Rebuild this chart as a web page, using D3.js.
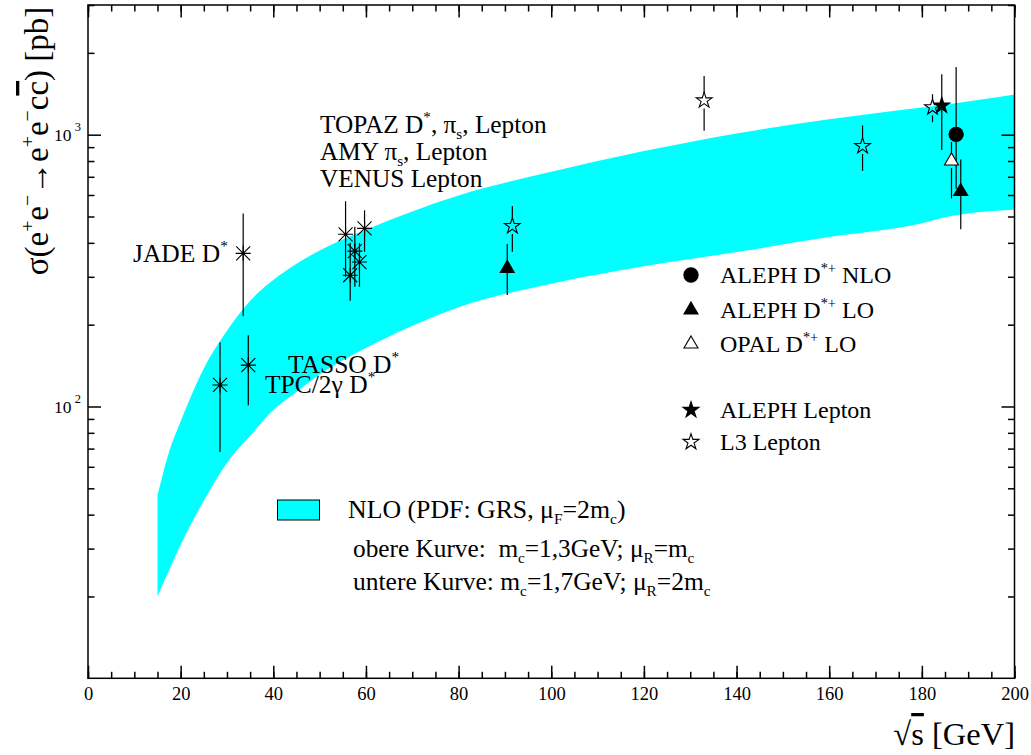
<!DOCTYPE html>
<html>
<head>
<meta charset="utf-8">
<script src="https://cdn.jsdelivr.net/npm/d3@7"></script>
<style>
  body { margin: 0; background: #fff; }
  svg { display: block; font-family: 'Liberation Serif', 'Times New Roman', serif; }
  text { white-space: pre; }
</style>
</head>
<body>
<div id="chart"></div>
<script>
// NLO band (upper / lower curve)
const bandX     = [15, 17.5, 20, 25, 30, 35, 40, 45, 50, 60, 70, 80, 100, 120, 140, 160, 180, 185, 200]
const bandUpper = [47, 68, 88, 138, 190, 245, 292, 335, 375, 447, 522, 597, 730, 870, 1010, 1140, 1260, 1290, 1406]
const bandLower = [20, 25, 31, 45, 62, 78, 97, 113, 131, 164, 198, 232, 283, 328, 370, 420, 472, 497, 530]

// PETRA / TRISTAN points (asterisk markers)
const astX  = [28.5, 34.6, 33.5, 55.6, 56.6, 57.6, 58.6, 59.7]
const astY  = [120, 142, 366, 430, 304, 373, 340, 452]
const astHi = [172, 183, 513, 569, 400, 458, 399, 527]
const astLo = [68, 101, 215, 300, 245, 276, 276, 371]

// ALEPH D*+ NLO (filled circle)
const alephNloX = [187.4], alephNloY = [1003], alephNloHi = [1776], alephNloLo = [632]
// ALEPH D*+ LO (filled triangle)
const alephLoX = [90.5, 188.4], alephLoY = [322, 618], alephLoHi = [396, 811], alephLoLo = [257, 449]
// OPAL D*+ LO (open triangle)
const opalX = [186.4], opalY = [800], opalHi = [940], opalLo = [583]
// ALEPH Lepton (filled star)
const alephLepX = [184.3], alephLepY = [1280], alephLepHi = [1667], alephLepLo = [879]
// L3 Lepton (open star)
const l3X  = [91.6, 133, 167.2, 182.3]
const l3Y  = [461, 1337, 908, 1261]
const l3Hi = [546, 1643, 1082, 1409]
const l3Lo = [371, 1033, 736, 1111]

const xMajor = d3.range(0, 201, 20)
const xMinor = d3.range(0, 201, 5)
const yMajor = [100, 1000]
const yMinor = [20, 30, 40, 50, 60, 70, 80, 90, 200, 300, 400, 500, 600, 700, 800, 900, 2000, 3000]

function draw() {
  let dimensions = {
    width: 1031,
    height: 755,
    margins: { top: 5, bottom: 76.7, left: 88, right: 16.5 }
  }
  dimensions.ctrWidth = dimensions.width - dimensions.margins.left - dimensions.margins.right
  dimensions.ctrHeight = dimensions.height - dimensions.margins.top - dimensions.margins.bottom

  const svg = d3.select('#chart')
    .append('svg')
    .attr('width', dimensions.width)
    .attr('height', dimensions.height)

  const ctr = svg.append('g')
    .attr('transform', `translate(${dimensions.margins.left}, ${dimensions.margins.top})`)

  const xScale = d3.scaleLinear().domain([0, 200]).range([0, dimensions.ctrWidth])
  const yScale = d3.scaleLog().domain([10, 3000]).range([dimensions.ctrHeight, 0])

  // band
  const bandData = bandX.map((x, i) => ({ x, hi: bandUpper[i], lo: bandLower[i] }))
  const area = d3.area()
    .x(d => xScale(d.x))
    .y0(d => yScale(d.lo))
    .y1(d => yScale(d.hi))
    .curve(d3.curveMonotoneX)
  ctr.append('path').datum(bandData).attr('d', area).attr('fill', '#00ffff')

  // axes with inward ticks
  const axisStyle = g => {
    g.select('.domain').remove()
    g.selectAll('line').attr('stroke', '#000').attr('stroke-width', 1.5)
  }
  ctr.append('g').attr('transform', `translate(0, ${dimensions.ctrHeight})`)
    .call(d3.axisBottom(xScale).tickValues(xMinor).tickSize(-6.5).tickFormat(''))
    .call(axisStyle)
  ctr.append('g').attr('transform', `translate(0, ${dimensions.ctrHeight})`)
    .call(d3.axisBottom(xScale).tickValues(xMajor).tickSize(-12.5).tickPadding(9).tickFormat(d3.format('d')))
    .call(axisStyle)
    .call(g => g.selectAll('text').attr('font-size', 18.5).attr('font-family', 'Liberation Serif').attr('fill', '#000'))
  ctr.append('g')
    .call(d3.axisTop(xScale).tickValues(xMinor).tickSize(-6.5).tickFormat(''))
    .call(axisStyle)
  ctr.append('g')
    .call(d3.axisTop(xScale).tickValues(xMajor).tickSize(-12.5).tickFormat(''))
    .call(axisStyle)
  ctr.append('g')
    .call(d3.axisLeft(yScale).tickValues(yMinor).tickSize(-6.5).tickFormat(''))
    .call(axisStyle)
  ctr.append('g')
    .call(d3.axisLeft(yScale).tickValues(yMajor).tickSize(-13).tickFormat(''))
    .call(axisStyle)
  ctr.append('g').attr('transform', `translate(${dimensions.ctrWidth}, 0)`)
    .call(d3.axisRight(yScale).tickValues(yMinor).tickSize(-6.5).tickFormat(''))
    .call(axisStyle)
  ctr.append('g').attr('transform', `translate(${dimensions.ctrWidth}, 0)`)
    .call(d3.axisRight(yScale).tickValues(yMajor).tickSize(-13).tickFormat(''))
    .call(axisStyle)

  // y tick labels 10^n
  yMajor.forEach(v => {
    const t = ctr.append('text')
      .attr('x', -34).attr('y', yScale(v) + 6.5)
      .attr('font-size', 17.5)
    t.append('tspan').text('10')
    t.append('tspan').text(' ' + Math.round(Math.log10(v)))
      .attr('font-size', 12.5).attr('dy', -10)
  })

  // frame
  ctr.append('rect')
    .attr('width', dimensions.ctrWidth).attr('height', dimensions.ctrHeight)
    .attr('fill', 'none').attr('stroke', '#000').attr('stroke-width', 1.5)

  // rich text helper: parts = [[string, mode]]
  function richText(sel, x, y, parts, size) {
    const t = sel.append('text').attr('x', x).attr('y', y).attr('font-size', size).attr('fill', '#000')
    let shift = 0
    parts.forEach(([str, mode]) => {
      const ts = t.append('tspan').text(str)
      let target = 0
      if (mode === 'sup') target = -size * 0.42
      if (mode === 'sub') target = size * 0.25
      if (mode === 'sup' || mode === 'sub') ts.attr('font-size', size * 0.6)
      if (mode === 'over') ts.style('text-decoration', 'overline')
      if (target !== shift) { ts.attr('dy', target - shift); shift = target }
    })
    return t
  }

  // error bars (split round open markers)
  const bars = (xs, ys, his, los, gap) => {
    xs.forEach((x, i) => {
      const px = xScale(x), py = yScale(ys[i])
      const segs = gap > 0
        ? [[yScale(his[i]), py - gap], [py + gap, yScale(los[i])]]
        : [[yScale(his[i]), yScale(los[i])]]
      segs.forEach(([a, b]) => {
        ctr.append('line').attr('x1', px).attr('x2', px).attr('y1', a).attr('y2', b)
          .attr('stroke', '#000').attr('stroke-width', 1.2)
      })
    })
  }

  const asteriskPath = 'M-7.5,0L7.5,0M0,-7.5L0,7.5M-7,-7L7,7M-7,7L7,-7'
  const star = d3.symbol(d3.symbolStar).size(78)()
  const tri = d3.symbol(d3.symbolTriangle).size(85)()
  const circ = d3.symbol(d3.symbolCircle).size(160)()

  const marks = (xs, ys, path, fill, stroke) => {
    xs.forEach((x, i) => {
      ctr.append('path').attr('d', path)
        .attr('transform', `translate(${xScale(x)}, ${yScale(ys[i])})`)
        .attr('fill', fill).attr('stroke', stroke).attr('stroke-width', 1.1)
    })
  }

  bars(astX, astY, astHi, astLo, 0)
  marks(astX, astY, asteriskPath, 'none', '#000')
  astX.forEach((x, i) => {
    ctr.append('circle').attr('cx', xScale(x)).attr('cy', yScale(astY[i])).attr('r', 1.5).attr('fill', '#000')
  })

  bars(l3X, l3Y, l3Hi, l3Lo, 8)
  marks(l3X, l3Y, star, 'none', '#000')
  bars(alephLepX, alephLepY, alephLepHi, alephLepLo, 0)
  marks(alephLepX, alephLepY, star, '#000', '#000')
  bars(alephNloX, alephNloY, alephNloHi, alephNloLo, 0)
  marks(alephNloX, alephNloY, circ, '#000', '#000')
  bars(opalX, opalY, opalHi, opalLo, 7)
  marks(opalX, opalY, tri, '#fff', '#000')
  bars(alephLoX, alephLoY, alephLoHi, alephLoLo, 0)
  marks(alephLoX, alephLoY, tri, '#000', '#000')

  // annotations (page coordinates)
  const ann = svg.append('g')
  richText(ann, 320, 133, [['TOPAZ D'], ['*', 'sup'], [', π'], ['s', 'sub'], [', Lepton']], 25.3)
  richText(ann, 320, 160, [['AMY π'], ['s', 'sub'], [', Lepton']], 25.3)
  richText(ann, 320, 187, [['VENUS Lepton']], 25.3)
  richText(ann, 133, 262, [['JADE D'], ['*', 'sup']], 25.5)
  richText(ann, 288, 373, [['TASSO D'], ['*', 'sup']], 25.5)
  richText(ann, 265, 393, [['TPC/2γ D'], ['*', 'sup']], 25.5)

  // legend (right)
  const legRows = [
    { y: 283, path: circ, fill: '#000', parts: [['ALEPH D'], ['*+', 'sup'], [' NLO']] },
    { y: 318, path: tri, fill: '#000', parts: [['ALEPH D'], ['*+', 'sup'], [' LO']] },
    { y: 352, path: tri, fill: 'none', parts: [['OPAL D'], ['*+', 'sup'], [' LO']] },
    { y: 418, path: star, fill: '#000', parts: [['ALEPH Lepton']] },
    { y: 450, path: star, fill: 'none', parts: [['L3 Lepton']] }
  ]
  legRows.forEach(r => {
    ann.append('path').attr('d', r.path)
      .attr('transform', `translate(691, ${r.y - 8})`)
      .attr('fill', r.fill).attr('stroke', '#000').attr('stroke-width', 1.1)
    richText(ann, 720, r.y, r.parts, 24)
  })

  // legend (band)
  ann.append('rect').attr('x', 277.5).attr('y', 500).attr('width', 42).attr('height', 20)
    .attr('fill', '#00ffff').attr('stroke', '#000').attr('stroke-width', 1)
  richText(ann, 348, 518, [['NLO (PDF: GRS, μ'], ['F', 'sub'], ['=2m'], ['c', 'sub'], [')']], 25.8)
  richText(ann, 353, 557, [['obere Kurve:  m'], ['c', 'sub'], ['=1,3GeV; μ'], ['R', 'sub'], ['=m'], ['c', 'sub']], 25.3)
  richText(ann, 353, 590, [['untere Kurve: m'], ['c', 'sub'], ['=1,7GeV; μ'], ['R', 'sub'], ['=2m'], ['c', 'sub']], 25.5)

  // axis titles
  const yt = richText(svg, 0, 0,
    [['σ(e'], ['+', 'sup'], ['e'], ['−', 'sup'], ['→e'], ['+', 'sup'], ['e'], ['−', 'sup'], ['c'], ['c', 'over'], [') [pb]']], 33)
  yt.attr('text-anchor', 'middle').attr('transform', 'translate(48, 141) rotate(-90)')
  const xt = richText(svg, 1015, 745, [['√'], ['s', 'over'], [' [GeV]']], 32.5)
  xt.attr('text-anchor', 'end')
}

draw()
</script>
</body>
</html>
